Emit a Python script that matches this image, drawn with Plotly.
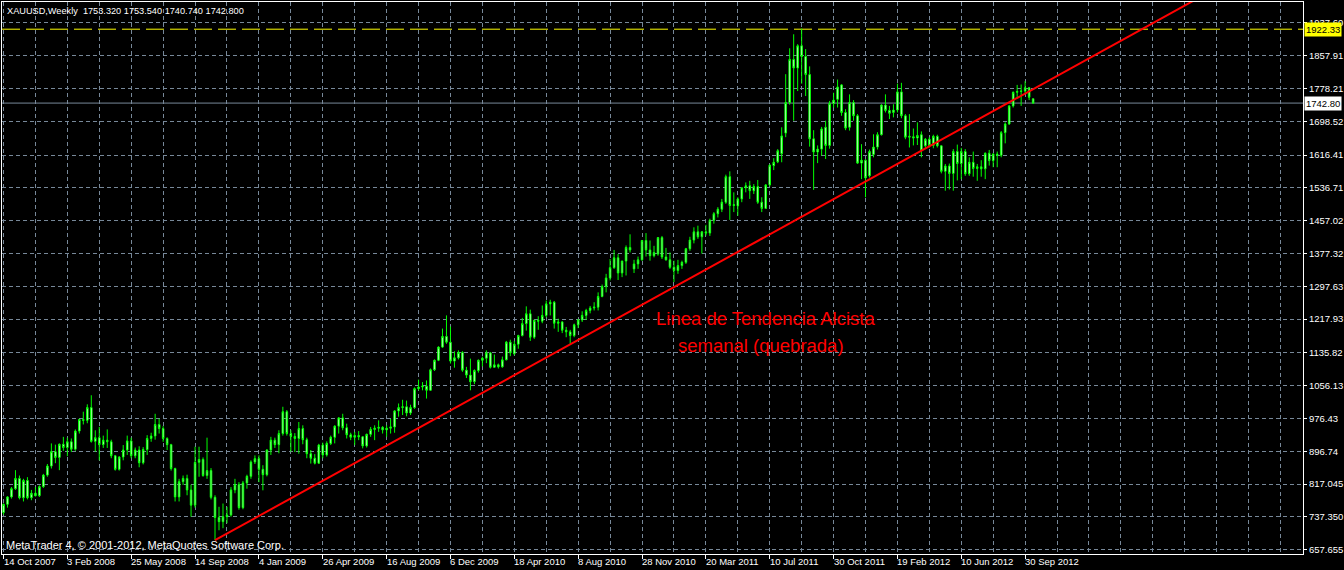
import plotly.graph_objects as go

# ---------------- data ----------------
chart_title = "XAUUSD,Weekly  1753.320 1753.540 1740.740 1742.800"
copyright_text = "MetaTrader 4, \u00a9 2001-2012, MetaQuotes Software Corp."
note_line1 = "Linea de Tendencia Alcista"
note_line2 = "semanal (quebrada)"

opens = [748,768,786,806,831,784,826,784,795,789,811,839,861,896,882,914,906,920,902,946,
         974,972,1003,921,930,913,924,920,886,853,883,900,922,886,900,869,901,928,934,962,
         952,928,913,855,786,823,831,803,766,870,877,838,850,785,736,726,738,742,803,816,
         760,820,836,871,879,853,840,900,924,913,940,993,940,933,928,952,925,891,880,868,
         912,888,916,931,958,978,954,937,931,935,932,910,938,950,953,955,949,953,956,995,
         1003,1005,990,1003,1049,1053,1055,1045,1095,1118,1150,1176,1162,1116,1124,1137,1094,1082,1066,1093,
         1118,1123,1136,1101,1107,1102,1119,1162,1134,1157,1178,1207,1231,1174,1215,1213,1227,1255,1259,1208,
         1211,1191,1187,1178,1204,1216,1227,1239,1245,1247,1273,1297,1318,1343,1367,1330,1359,1392,1340,1352,
         1362,1409,1386,1372,1376,1416,1369,1362,1344,1336,1348,1356,1389,1410,1430,1418,1430,1427,1458,1474,
         1485,1502,1564,1494,1493,1510,1537,1542,1530,1540,1502,1487,1544,1591,1600,1620,1670,1744,1849,1828,
         1882,1856,1812,1656,1624,1631,1684,1640,1742,1752,1787,1720,1684,1744,1712,1597,1604,1566,1618,1636,
         1666,1738,1725,1720,1726,1770,1712,1660,1661,1658,1666,1639,1655,1640,1662,1639,1577,1590,1572,1625,
         1596,1625,1571,1599,1584,1588,1583,1621,1603,1619,1616,1671,1692,1736,1769,1771,1772,1780,1753.32]

highs = [770,788,810,851,838,830,834,803,810,814,842,866,916,913,916,932,930,928,950,976,
         993,1011,1033,948,956,935,950,925,888,885,912,935,930,906,909,907,936,942,988,976,
         958,931,915,857,830,838,840,816,908,908,882,930,856,790,762,770,762,810,830,822,
         825,840,875,887,887,863,902,932,930,948,1005,997,948,941,968,960,930,900,890,915,
         918,921,935,960,980,988,964,942,944,946,934,940,956,960,972,958,960,976,997,1013,
         1022,1020,1010,1052,1071,1065,1069,1098,1120,1152,1195,1227,1200,1140,1142,1140,1102,1122,1096,1120,
         1127,1142,1138,1132,1110,1127,1165,1168,1165,1180,1221,1249,1241,1217,1225,1251,1263,1265,1262,1219,
         1213,1199,1192,1207,1218,1237,1243,1250,1259,1283,1302,1328,1364,1386,1376,1360,1397,1424,1362,1370,
         1410,1427,1409,1396,1417,1420,1391,1380,1360,1362,1360,1391,1418,1441,1445,1432,1447,1462,1478,1490,
         1510,1569,1577,1526,1514,1538,1550,1554,1546,1556,1514,1546,1594,1609,1631,1684,1813,1876,1910,1886,
         1924,1874,1832,1677,1640,1685,1700,1748,1768,1800,1789,1728,1764,1750,1716,1643,1607,1630,1667,1672,
         1740,1764,1736,1740,1790,1792,1716,1716,1681,1696,1674,1658,1660,1666,1666,1640,1595,1596,1631,1642,
         1634,1631,1611,1625,1595,1604,1623,1629,1621,1625,1675,1696,1738,1771,1787,1788,1796,1782,1753.54]

lows = [743,760,782,803,780,775,780,778,787,786,808,835,855,868,851,898,885,895,898,940,
        962,965,918,896,875,905,905,880,850,850,875,888,880,880,858,865,888,920,925,940,
        920,900,850,775,775,815,790,738,760,835,835,830,780,681,705,710,722,738,795,755,
        756,806,830,866,822,802,836,888,905,892,935,935,896,895,891,914,880,867,865,866,
        880,884,912,916,940,948,928,924,912,924,904,906,932,924,944,940,932,940,942,981,
        985,982,985,1000,1045,1045,1025,1044,1092,1116,1148,1158,1110,1100,1120,1090,1075,1045,1060,1088,
        1103,1111,1098,1100,1098,1100,1118,1128,1130,1146,1176,1190,1165,1170,1192,1208,1222,1227,1195,1187,
        1184,1174,1158,1174,1196,1211,1216,1232,1239,1239,1271,1283,1312,1340,1313,1320,1324,1380,1330,1340,
        1360,1370,1360,1368,1372,1364,1360,1340,1308,1328,1340,1352,1384,1402,1413,1377,1421,1420,1450,1465,
        1478,1498,1459,1478,1469,1502,1526,1510,1522,1498,1478,1486,1540,1580,1597,1599,1660,1739,1700,1772,
        1790,1760,1637,1532,1597,1615,1607,1632,1732,1732,1712,1677,1676,1700,1595,1558,1514,1562,1611,1630,
        1664,1720,1704,1708,1720,1706,1655,1635,1640,1641,1611,1634,1635,1633,1635,1572,1530,1533,1530,1555,
        1558,1566,1566,1564,1554,1564,1558,1591,1587,1587,1611,1645,1690,1732,1756,1736,1765,1750,1740.74]

closes = [768,786,806,831,784,826,784,795,789,811,839,861,896,882,914,906,920,902,946,974,
          972,1003,921,930,913,924,920,886,853,883,900,922,886,900,869,901,928,934,962,952,
          928,913,855,786,823,831,803,766,870,877,838,850,785,736,726,738,742,803,816,760,
          820,836,871,879,853,840,900,924,913,940,993,940,933,928,952,925,891,880,868,912,
          888,916,931,958,978,954,937,931,935,932,910,938,950,953,955,949,953,956,995,1003,
          1005,990,1003,1049,1053,1055,1045,1095,1118,1150,1176,1162,1116,1124,1137,1094,1082,1066,1093,1118,
          1123,1136,1101,1107,1102,1119,1162,1136,1157,1178,1207,1231,1174,1215,1213,1227,1255,1259,1208,1211,
          1191,1187,1178,1204,1216,1227,1239,1245,1247,1273,1297,1318,1343,1367,1330,1359,1392,1386,1352,1362,
          1409,1386,1372,1380,1416,1369,1362,1344,1336,1348,1356,1389,1410,1430,1418,1430,1427,1458,1474,1485,
          1502,1564,1494,1496,1510,1537,1542,1530,1540,1502,1487,1544,1592,1599,1627,1663,1744,1849,1828,1882,
          1856,1812,1656,1624,1631,1680,1640,1742,1750,1782,1720,1682,1744,1712,1597,1604,1561,1625,1636,1666,
          1738,1725,1718,1726,1770,1712,1660,1662,1658,1664,1627,1655,1640,1662,1639,1577,1590,1572,1625,1596,
          1625,1571,1599,1584,1588,1583,1621,1603,1619,1616,1671,1692,1736,1769,1771,1772,1780,1757,1742.80]

date_labels = ["14 Oct 2007", "3 Feb 2008", "25 May 2008", "14 Sep 2008", "4 Jan 2009",
               "26 Apr 2009", "16 Aug 2009", "6 Dec 2009", "18 Apr 2010", "8 Aug 2010",
               "28 Nov 2010", "20 Mar 2011", "10 Jul 2011", "30 Oct 2011", "19 Feb 2012",
               "10 Jun 2012", "30 Sep 2012"]
date_label_bars = [0, 16, 32, 48, 64, 80, 96, 112, 128, 144, 160, 176, 192, 208, 224, 240, 256]

price_ticks = [1937.60, 1857.91, 1778.21, 1698.52, 1616.41, 1536.71, 1457.02, 1377.32, 1297.63,
               1217.93, 1135.82, 1056.13, 976.43, 896.74, 817.045, 737.350, 657.655]
price_tick_text = ["1937.60", "1857.91", "1778.21", "1698.52", "1616.41", "1536.71", "1457.02",
                   "1377.32", "1297.63", "1217.93", "1135.82", "1056.13", "976.43", "896.74",
                   "817.045", "737.350", "657.655"]

resistance_level = 1922.33
last_price = 1742.80
trend_anchor_bars = [53, 227]
trend_anchor_prices = [681.0, 1611.0]
trend_end_bar = 300

# ---------------- layout geometry ----------------
W, H = 1344, 570
ML, MR, MT, MB = 2, 38, 1, 16
PW = W - ML - MR
PH = H - MT - MB
x_range = [-0.375, -0.375 + PW / 4.0]
y_range = [647.35, 1988.4]

def px_x(px):
    return (px - ML) / PW

def px_y(py):
    return (H - MB - py) / PH

bars = list(range(len(opens)))

GRID = "#778899"
LIME = "#00ff00"
FONT = "Liberation Sans"

fig = go.Figure()

fig.add_trace(go.Candlestick(
    x=bars, open=opens, high=highs, low=lows, close=closes,
    increasing=dict(line=dict(color=LIME, width=1), fillcolor="#ffffff"),
    decreasing=dict(line=dict(color=LIME, width=1), fillcolor="#ffffff"),
    whiskerwidth=0, hoverinfo="skip", showlegend=False,
))

# trend line through two anchor points, extended to the right
slope = (trend_anchor_prices[1] - trend_anchor_prices[0]) / (trend_anchor_bars[1] - trend_anchor_bars[0])
tl_x = [trend_anchor_bars[0], trend_end_bar]
tl_y = [trend_anchor_prices[0], trend_anchor_prices[0] + slope * (trend_end_bar - trend_anchor_bars[0])]
fig.add_trace(go.Scatter(x=tl_x, y=tl_y, mode="lines",
                         line=dict(color="#ff0000", width=2),
                         hoverinfo="skip", showlegend=False))

shapes = [
    dict(type="line", xref="paper", x0=0, x1=1, yref="y", y0=resistance_level, y1=resistance_level,
         line=dict(color="#ffff00", width=1, dash="18px,6px"), layer="below"),
    dict(type="line", xref="paper", x0=0, x1=1, yref="y", y0=last_price, y1=last_price,
         line=dict(color=GRID, width=1), layer="below"),
]

annotations = []
annotations.append(dict(text=chart_title, xref="paper", yref="paper", x=px_x(5), y=px_y(10),
                        xanchor="left", yanchor="middle", showarrow=False,
                        font=dict(family=FONT, size=9.2, color="#ffffff")))
annotations.append(dict(text=copyright_text, xref="paper", yref="paper", x=px_x(4), y=px_y(545),
                        xanchor="left", yanchor="middle", showarrow=False,
                        font=dict(family=FONT, size=11, color="#ffffff")))
annotations.append(dict(text=note_line1, xref="paper", yref="paper", x=px_x(767), y=px_y(318),
                        xanchor="center", yanchor="middle", showarrow=False,
                        font=dict(family=FONT, size=18.5, color="#ff0000")))
annotations.append(dict(text=note_line2, xref="paper", yref="paper", x=px_x(763), y=px_y(345),
                        xanchor="center", yanchor="middle", showarrow=False,
                        font=dict(family=FONT, size=18.5, color="#ff0000")))
for lab, b in zip(date_labels, date_label_bars):
    annotations.append(dict(text=lab, xref="x", yref="paper", x=b, y=px_y(562),
                            xanchor="left", yanchor="middle", showarrow=False, xshift=-2,
                            font=dict(family=FONT, size=9.5, color="#ffffff")))
annotations.append(dict(text="%.2f" % resistance_level, xref="paper", yref="y", x=1, y=resistance_level,
                        xanchor="left", yanchor="middle", showarrow=False, xshift=1,
                        bgcolor="#ffff00", borderpad=1,
                        font=dict(family=FONT, size=9.5, color="#000000")))
annotations.append(dict(text="%.2f" % last_price, xref="paper", yref="y", x=1, y=last_price,
                        xanchor="left", yanchor="middle", showarrow=False, xshift=1,
                        bgcolor="#ffffff", borderpad=1,
                        font=dict(family=FONT, size=9.5, color="#000000")))

fig.update_layout(
    width=W, height=H,
    margin=dict(l=ML, r=MR, t=MT, b=MB, pad=0),
    paper_bgcolor="#000000", plot_bgcolor="#000000",
    boxgap=0.45,
    showlegend=False,
    shapes=shapes, annotations=annotations,
    xaxis=dict(
        range=x_range, rangeslider=dict(visible=False),
        tickmode="array", tickvals=date_label_bars, ticktext=[""] * len(date_label_bars),
        ticks="outside", ticklen=4, tickcolor="#ffffff", tickwidth=1,
        showgrid=True, gridcolor=GRID, griddash="4px,3px", gridwidth=1,
        minor=dict(tick0=0, dtick=8, showgrid=True, gridcolor=GRID, griddash="4px,3px", ticks=""),
        showline=True, linecolor="#ffffff", linewidth=1, mirror=True,
        zeroline=False, fixedrange=True,
    ),
    yaxis=dict(
        range=y_range, side="right",
        tickmode="array", tickvals=price_ticks, ticktext=price_tick_text,
        ticks="outside", ticklen=3, tickcolor="#ffffff", tickwidth=1,
        tickfont=dict(family=FONT, size=9.5, color="#ffffff"),
        showgrid=True, gridcolor=GRID, griddash="4px,3px", gridwidth=1,
        showline=True, linecolor="#ffffff", linewidth=1, mirror=True,
        zeroline=False, fixedrange=True,
    ),
)

fig.write_html("out.html", config={"displayModeBar": False},
               post_script="document.body.style.margin='0';document.body.style.overflow='hidden';")
